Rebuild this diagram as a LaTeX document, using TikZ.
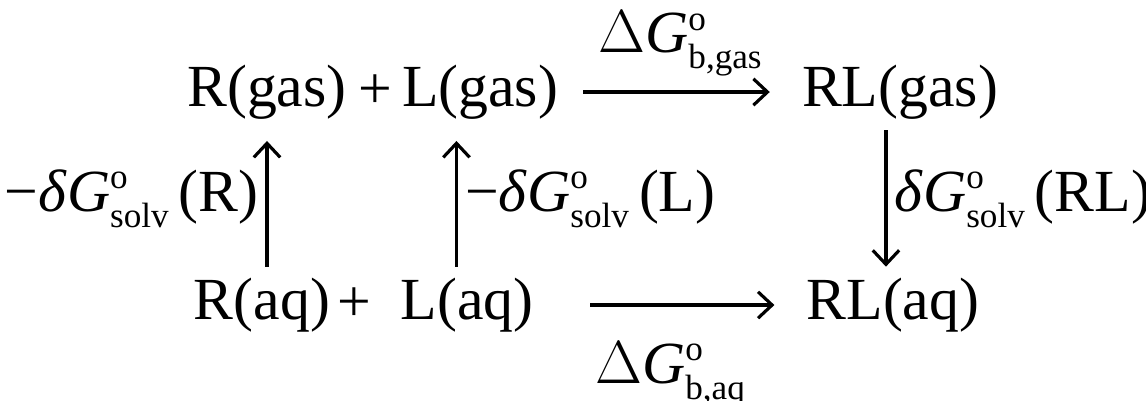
\documentclass[tikz,border=0pt]{standalone}
\usepackage{fontspec}
\setmainfont{Liberation Serif}
\usepackage{amsmath}
\usetikzlibrary{arrows.meta}
\newcommand{\Gstd}[1]{\textit{G}\raisebox{6.5pt}{\fontsize{10}{10}\selectfont\rlap{o}}\raisebox{-4.5pt}{\fontsize{10}{10}\selectfont #1}}

\begin{document}
\begin{tikzpicture}[
  species/.style={inner sep=3pt, font=\fontsize{17}{20}\selectfont},
  lbl/.style={inner sep=2pt, font=\fontsize{17}{20}\selectfont},
  rxn/.style={-{Straight Barb[length=4pt,width=7.5pt]}, line width=0.9pt}
]
\useasboundingbox (0,0) rectangle (11.46,4);

% --- gas phase ---
\node[species] (Rg) at (2.67,3.08) {R(gas)};
\node[species] (pg) at (3.75,3.08) {+};
\node[species] (Lg) at (4.80,3.08) {L(gas)};
\node[species] (RLg) at (9.00,3.08) {RL(gas)};

% --- aqueous phase ---
\node[species] (Raq) at (2.62,0.95) {R(aq)};
\node[species] (paq) at (3.54,0.95) {+};
\node[species] (Laq) at (4.67,0.95) {L(aq)};
\node[species] (RLaq) at (8.93,0.95) {RL(aq)};

% binding
\draw[rxn, shorten <=4pt, shorten >=6pt] (Lg.east) -- (RLg.west)
  node[lbl, midway, above=2pt] {$\Delta$\Gstd{b,gas}};
\draw[rxn, shorten <=13pt, shorten >=6pt] (Laq.east) -- (RLaq.west)
  node[lbl, midway, below=8pt] {$\Delta$\Gstd{b,aq}};

% solvation
\draw[rxn, shorten >=3pt] (Rg |- Raq.north) -- (Rg.south)
  node[lbl, midway, left] {−\textit{δ}\Gstd{solv}\,(R)};
\draw[rxn, shorten >=3pt] ([xshift=-3pt]Laq.north) -- ([xshift=-3pt]Laq.north |- Lg.south)
  node[lbl, midway, right] {−\textit{δ}\Gstd{solv}\,(L)};
\draw[rxn] ([xshift=-4pt]RLg.south) -- ([xshift=-4pt]RLg.south |- RLaq.north)
  node[lbl, midway, right] {\textit{δ}\Gstd{solv}\,(RL)};
\end{tikzpicture}
\end{document}
